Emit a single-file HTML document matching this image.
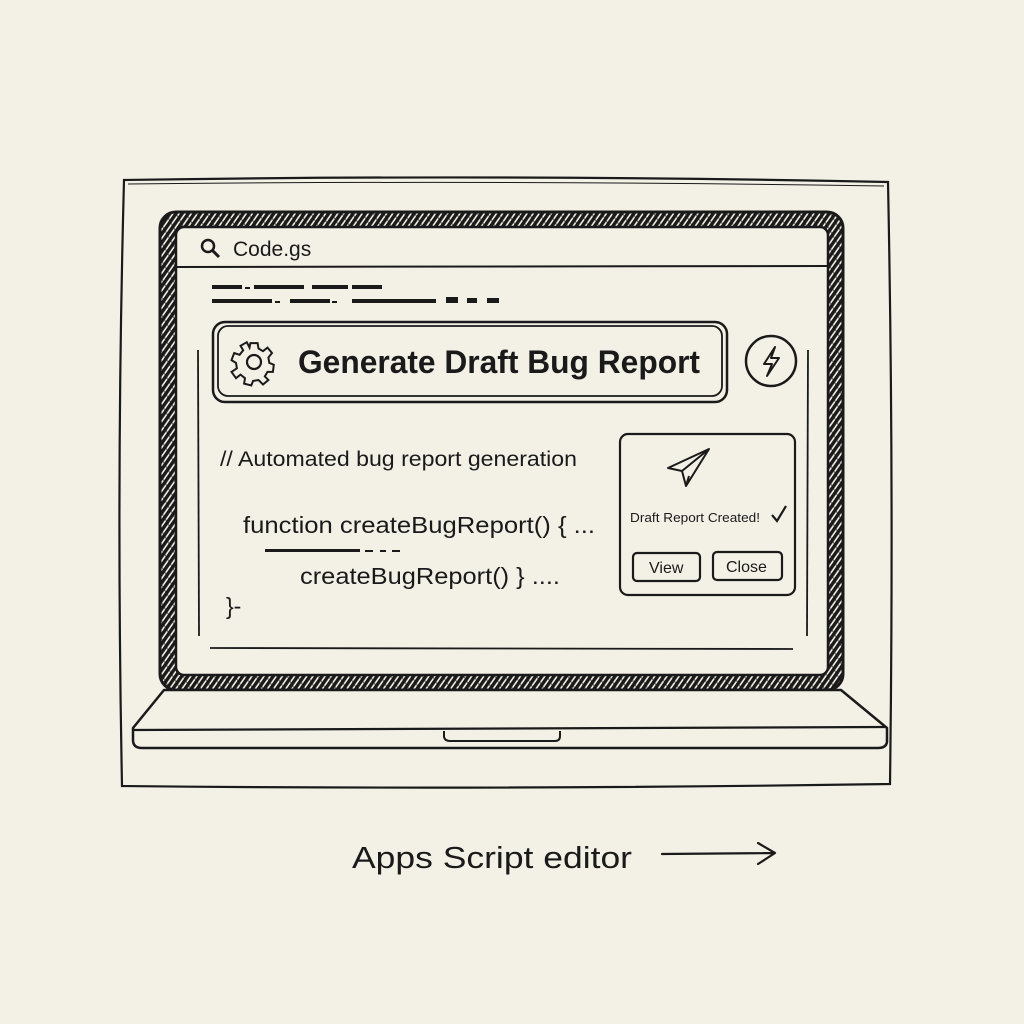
<!DOCTYPE html>
<html><head><meta charset="utf-8"><style>
html,body{margin:0;padding:0;background:#f3f0e6;}
svg{display:block}
text{font-family:"Liberation Sans",sans-serif;fill:#1a1a1a}
</style></head><body>
<svg width="1024" height="1024" viewBox="0 0 1024 1024" xmlns="http://www.w3.org/2000/svg">
<defs>
<pattern id="hatch" width="5" height="5" patternUnits="userSpaceOnUse" patternTransform="rotate(35)">
<rect width="5" height="5" fill="#f3f0e6"/>
<rect width="3.4" height="5" fill="#1a1a1a"/>
</pattern>
<pattern id="hatch2" width="9" height="9" patternUnits="userSpaceOnUse" patternTransform="rotate(-30)">
<rect width="1.2" height="9" fill="#1a1a1a"/>
</pattern>
</defs>
<rect width="1024" height="1024" fill="#f3f0e6"/>
<!-- outer frame -->
<path d="M124 180 Q500 174 888 182 Q894 480 890 784 Q500 790 122 786 Q116 480 124 180 Z" fill="none" stroke="#1a1a1a" stroke-width="2.2"/>
<path d="M128 184 Q500 180 884 186" fill="none" stroke="#1a1a1a" stroke-width="1"/>
<!-- bezel -->
<rect x="160" y="212" width="683" height="478" rx="16" fill="url(#hatch)" stroke="#1a1a1a" stroke-width="3"/>
<rect x="160" y="212" width="683" height="478" rx="16" fill="url(#hatch2)" opacity="0.6"/>
<rect x="176" y="227" width="652" height="448" rx="8" fill="#f3f0e6" stroke="#1a1a1a" stroke-width="2.5"/>
<!-- base -->
<path d="M164 690 L841 690 L887 728 L887 742 Q886 748 878 748 L142 748 Q133 748 133 740 L133 728 Z" fill="#f3f0e6" stroke="#1a1a1a" stroke-width="2.5" stroke-linejoin="round"/>
<path d="M134 730 L886 727" stroke="#1a1a1a" stroke-width="2.2"/>
<path d="M444 731 L444 737 Q445 741 450 741 L555 741 Q560 741 560 736 L560 731" fill="none" stroke="#1a1a1a" stroke-width="2"/>
<!-- header -->
<circle cx="208" cy="246" r="6" fill="none" stroke="#1a1a1a" stroke-width="2.5"/>
<line x1="212" y1="250" x2="219" y2="257" stroke="#1a1a1a" stroke-width="3"/>
<text x="233" y="256" font-size="21">Code.gs</text>
<line x1="177" y1="267" x2="827" y2="266" stroke="#1a1a1a" stroke-width="2"/>
<!-- scribbles -->
<g fill="#1a1a1a">
<rect x="212" y="285" width="30" height="4"/><rect x="245" y="287" width="5" height="2"/><rect x="254" y="285" width="50" height="4"/><rect x="312" y="285" width="36" height="4"/><rect x="352" y="285" width="30" height="4"/>
<rect x="212" y="299" width="60" height="4"/><rect x="275" y="301" width="5" height="2"/><rect x="290" y="299" width="40" height="4"/><rect x="332" y="301" width="5" height="2"/><rect x="352" y="299" width="84" height="4"/><rect x="446" y="297" width="12" height="6"/><rect x="467" y="298" width="10" height="5"/><rect x="487" y="298" width="12" height="5"/>
</g>
<!-- content frame -->
<line x1="198" y1="350" x2="199" y2="636" stroke="#1a1a1a" stroke-width="1.8"/>
<line x1="808" y1="350" x2="807" y2="636" stroke="#1a1a1a" stroke-width="1.8"/>
<line x1="210" y1="648" x2="793" y2="649" stroke="#1a1a1a" stroke-width="1.8"/>
<!-- generate button -->
<rect x="213" y="322" width="514" height="80" rx="12" fill="#f3f0e6" stroke="#1a1a1a" stroke-width="2.5"/>
<rect x="218" y="326" width="504" height="70" rx="10" fill="none" stroke="#1a1a1a" stroke-width="1.8"/>
<g transform="translate(254,362)" fill="none" stroke="#1a1a1a" stroke-width="2.2">
<path d="M-4 -21 L4 -21 L5 -15 L10 -12 L15 -16 L20 -10 L16 -5 L17 1 L22 3 L21 11 L15 11 L12 16 L16 20 L10 25 L5 20 L-1 21 L-3 26 L-11 24 L-10 18 L-15 14 L-20 18 L-25 11 L-19 7 L-20 1 L-25 -2 L-22 -10 L-16 -8 L-12 -13 L-15 -18 L-8 -22 L-5 -16 Z" transform="scale(0.9)"/>
<circle r="7"/>
</g>
<text x="298" y="373" font-size="32" font-weight="bold" textLength="402" lengthAdjust="spacingAndGlyphs">Generate Draft Bug Report</text>
<!-- lightning -->
<circle cx="771" cy="361" r="25" fill="none" stroke="#1a1a1a" stroke-width="2.5"/>
<path d="M775 347 L764 364 L772 364 L767 376 L779 358 L771 358 Z" fill="none" stroke="#1a1a1a" stroke-width="2" stroke-linejoin="round"/>
<!-- code -->
<text x="220" y="466" font-size="21" textLength="357" lengthAdjust="spacingAndGlyphs">// Automated bug report generation</text>
<text x="243" y="533" font-size="23" textLength="352" lengthAdjust="spacingAndGlyphs">function createBugReport() { ...</text>
<g fill="#1a1a1a"><rect x="265" y="549" width="95" height="3"/><rect x="365" y="550" width="8" height="2"/><rect x="380" y="550" width="6" height="2"/><rect x="392" y="550" width="8" height="2"/></g>
<text x="300" y="584" font-size="23" textLength="260" lengthAdjust="spacingAndGlyphs">createBugReport() } ....</text>
<text x="226" y="614" font-size="23">}-</text>
<!-- dialog -->
<rect x="620" y="434" width="175" height="161" rx="8" fill="#f3f0e6" stroke="#1a1a1a" stroke-width="2.2"/>
<path d="M668 468 L709 449 L686 486 L682 471 Z M682 471 L709 449 M686 486 L689 476" fill="none" stroke="#1a1a1a" stroke-width="2" stroke-linejoin="round"/>
<text x="630" y="522" font-size="13" textLength="130" lengthAdjust="spacingAndGlyphs">Draft Report Created!</text>
<path d="M772 515 L777 521 L786 506" fill="none" stroke="#1a1a1a" stroke-width="2.2"/>
<rect x="633" y="553" width="67" height="28" rx="4" fill="none" stroke="#1a1a1a" stroke-width="2.2"/>
<text x="649" y="573" font-size="16">View</text>
<rect x="713" y="552" width="69" height="28" rx="4" fill="none" stroke="#1a1a1a" stroke-width="2.2"/>
<text x="726" y="572" font-size="16">Close</text>
<!-- caption -->
<text x="352" y="868" font-size="31" textLength="280" lengthAdjust="spacingAndGlyphs">Apps Script editor</text>
<path d="M662 854 L774 853 M758 843 L775 853 L758 864" fill="none" stroke="#1a1a1a" stroke-width="2.2" stroke-linecap="round" stroke-linejoin="round"/>
</svg>
</body></html>
